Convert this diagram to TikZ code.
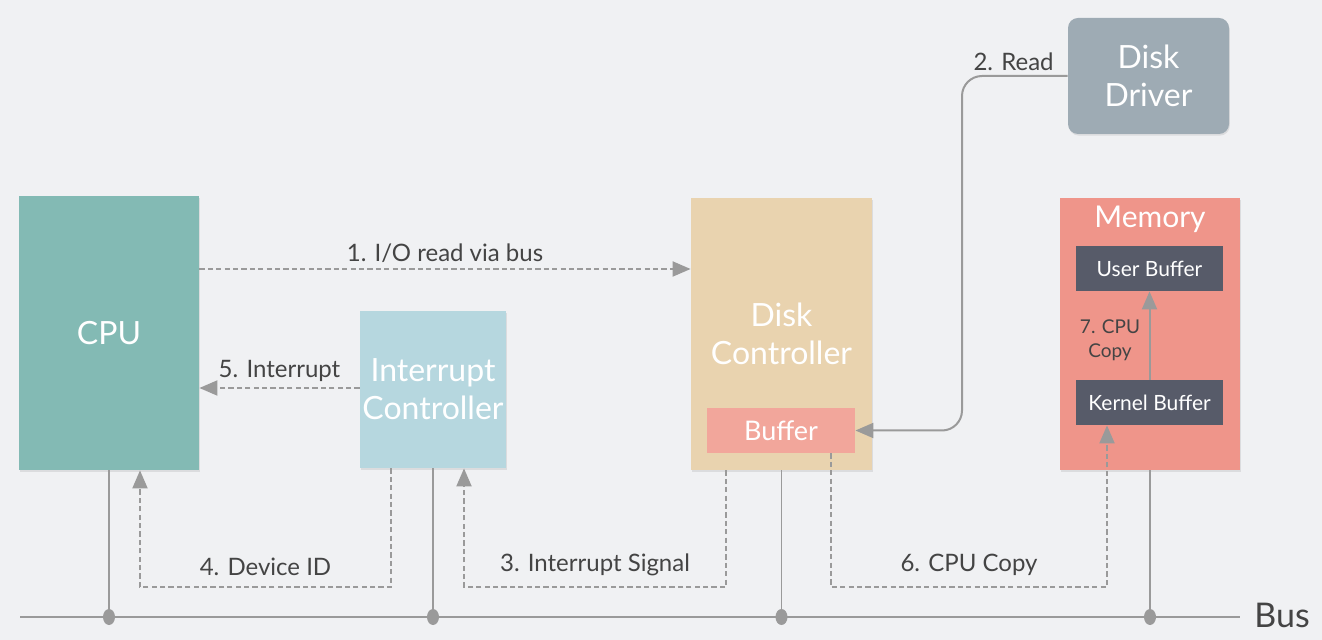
\documentclass[tikz,border=0pt]{standalone}
\usepackage{fontspec}
\setmainfont{Lato}
\usepackage{xcolor}
\usetikzlibrary{arrows.meta,shadows}
\definecolor{bgc}{HTML}{F0F1F3}
\definecolor{cpuc}{HTML}{83BAB4}
\definecolor{ictrlc}{HTML}{B6D7DF}
\definecolor{dctrlc}{HTML}{E9D3AF}
\definecolor{bufc}{HTML}{F2A69B}
\definecolor{memc}{HTML}{EF958A}
\definecolor{darkbufc}{HTML}{575B69}
\definecolor{ddrvc}{HTML}{9EABB4}
\definecolor{linec}{HTML}{9A9A9A}
\definecolor{textc}{HTML}{444444}
\tikzset{
  box/.style={inner sep=0pt, align=center, text=white, font=\fontsize{16}{19}\selectfont,
    drop shadow={opacity=0.18, shadow xshift=0.4pt, shadow yshift=-0.8pt}},
  innerbox/.style={inner sep=0pt, align=center, text=white, font=\fontsize{10.5}{12}\selectfont,
    minimum width=73.5pt, minimum height=22.5pt, fill=darkbufc},
  lbl/.style={text=textc, font=\fontsize{12}{14}\selectfont, inner sep=1pt},
  dasharrow/.style={linec, line width=1pt, dash pattern=on 2.6pt off 1.6pt, -{Triangle[width=7.5pt,length=9pt]}},
  solidarrow/.style={linec, line width=1pt, -{Triangle[width=7.5pt,length=9pt]}},
  busline/.style={linec, line width=0.8pt},
  busdot/.style={ellipse, fill=linec, inner sep=0pt, minimum width=6pt, minimum height=8pt}
}
\usetikzlibrary{shapes.geometric}
\begin{document}
\begin{tikzpicture}[x=0.5pt, y=-0.5pt]
\fill[bgc] (0,0) rectangle (1322,640);
\useasboundingbox (0,0) rectangle (1322,640);
\node[box, fill=cpuc, minimum width=90pt, minimum height=137pt] (cpu) at (109,333) {CPU};
\node[box, fill=ictrlc, minimum width=73pt, minimum height=78.5pt] (ictrl) at (433,389.5) {Interrupt\\Controller};
\node[box, fill=dctrlc, minimum width=90.5pt, minimum height=136pt] (dctrl) at (781.5,334) {Disk\\Controller};
\node[inner sep=0pt, text=white, font=\fontsize{13.5}{16}\selectfont, fill=bufc, minimum width=74pt, minimum height=22.5pt] (buf) at (781,430.5) {Buffer};
\node[box, fill=memc, minimum width=90pt, minimum height=136pt] (mem) at (1150,334) {};
\node[inner sep=0pt, text=white, font=\fontsize{15}{18}\selectfont] (memlbl) at (1150,219) {Memory};
\node[innerbox] (ubuf) at (1149.5,268.5) {User Buffer};
\node[innerbox] (kbuf) at (1149.5,402.5) {Kernel Buffer};
\node[box, fill=ddrvc, rounded corners=5pt, minimum width=80.5pt, minimum height=58pt] (ddrv) at (1148.5,76) {Disk\\Driver};
\coordinate (busL) at (20,617);
\coordinate (busR) at (1240,617);
\draw[busline] (busL) -- (busR);
\node[text=textc, font=\fontsize{17}{20}\selectfont, anchor=west, inner sep=0pt] (buslbl) at (1254,615) {Bus};
\node[busdot] (dot1) at (cpu.south |- busL) {};
\node[busdot] (dot2) at (ictrl.south |- busL) {};
\node[busdot] (dot3) at (dctrl.south |- busL) {};
\node[busdot] (dot4) at (mem.south |- busL) {};
\draw[busline] (cpu.south) -- (dot1);
\draw[busline] (ictrl.south) -- (dot2);
\draw[busline] (dctrl.south) -- (dot3);
\draw[busline] (mem.south) -- (dot4);
\draw[dasharrow] (cpu.east |- 0,269) -- (dctrl.west |- 0,269) node[lbl, midway, above=1.5pt] {1. I/O read via bus};
\draw[solidarrow, rounded corners=10pt] (ddrv.west) -- (962,0 |- ddrv.west) -- (962,0 |- buf.east) -- (buf.east);
\node[lbl, anchor=south east] (readlbl) at (1056,73) {2. Read};
\draw[dasharrow] (726,0 |- dctrl.south) -- (726,587) -- (464,587) node[lbl, midway, above=4pt] {3. Interrupt Signal} -- (464,0 |- ictrl.south);
\draw[dasharrow] (391,0 |- ictrl.south) -- (391,587) -- (140,587) node[lbl, midway, above=4pt] {4. Device ID} -- (140,0 |- cpu.south);
\draw[dasharrow] (ictrl.west |- 0,388) -- (cpu.east |- 0,388) node[lbl, midway, above=1.5pt] {5. Interrupt};
\draw[dasharrow] (831,0 |- buf.south) -- (831,587) -- (1107,587) node[lbl, midway, above=4pt] {6. CPU Copy} -- (1107,0 |- kbuf.south);
\draw[solidarrow] (kbuf.north) -- (ubuf.south);
\node[lbl, align=center, font=\fontsize{9.5}{12}\selectfont] (copylbl) at (1110,340) {7. CPU\\Copy};
\end{tikzpicture}
\end{document}
